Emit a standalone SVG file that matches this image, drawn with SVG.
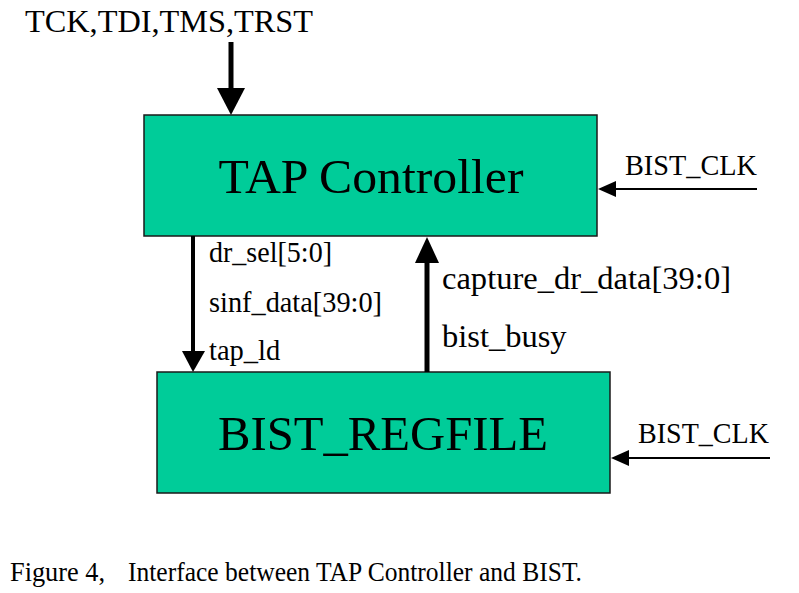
<svg xmlns="http://www.w3.org/2000/svg" width="799" height="593" viewBox="0 0 799 593">
<style>
.box{fill:#00cc99;stroke:#1a1a1a;stroke-width:1.5}
.t{font-family:"Liberation Serif","Times New Roman",serif;fill:#000}
.big{font-size:49px}
.lbl{font-size:28.5px}
.lbl2{font-size:32.5px}
.ln{stroke:#000;fill:none}
.hd{fill:#000}
</style>
<rect width="799" height="593" fill="#fff"/>
<g id="tap-controller">
<rect class="box" x="144" y="115" width="453" height="121"/>
<text class="t big" x="371" y="193" text-anchor="middle" textLength="305" lengthAdjust="spacingAndGlyphs">TAP Controller</text>
</g>
<g id="bist-regfile">
<rect class="box" x="157" y="372" width="453" height="121"/>
<text class="t big" x="383" y="450" text-anchor="middle" textLength="330" lengthAdjust="spacingAndGlyphs">BIST_REGFILE</text>
</g>
<g id="connectors">
<line class="ln" x1="231" y1="42" x2="231" y2="90" stroke-width="5"/>
<polygon class="hd" points="217,88 245,88 231,115"/>
<line class="ln" x1="193" y1="236" x2="193" y2="354" stroke-width="4"/>
<polygon class="hd" points="182,351 205,351 193,372"/>
<line class="ln" x1="427" y1="260" x2="427" y2="372" stroke-width="5"/>
<polygon class="hd" points="415,263 439,263 427,237"/>
<line class="ln" x1="757" y1="189" x2="612" y2="189" stroke-width="2"/>
<polygon class="hd" points="598,189 616,181 616,197"/>
<line class="ln" x1="770" y1="458" x2="625" y2="458" stroke-width="2"/>
<polygon class="hd" points="611,458 629,450 629,466"/>
</g>
<g id="labels">
<text class="t" x="25" y="32" font-size="32" textLength="288" lengthAdjust="spacingAndGlyphs">TCK,TDI,TMS,TRST</text>
<text class="t lbl" x="625" y="175" textLength="132" lengthAdjust="spacingAndGlyphs">BIST_CLK</text>
<text class="t lbl" x="638" y="443" textLength="131" lengthAdjust="spacingAndGlyphs">BIST_CLK</text>
<text class="t lbl" x="209" y="262" textLength="123" lengthAdjust="spacingAndGlyphs">dr_sel[5:0]</text>
<text class="t lbl" x="209" y="312" textLength="173" lengthAdjust="spacingAndGlyphs">sinf_data[39:0]</text>
<text class="t lbl" x="209" y="360">tap_ld</text>
<text class="t lbl2" x="442" y="289" textLength="289" lengthAdjust="spacingAndGlyphs">capture_dr_data[39:0]</text>
<text class="t lbl2" x="442" y="347">bist_busy</text>
</g>
<g id="caption">
<text class="t" x="10" y="581" font-size="27" textLength="95" lengthAdjust="spacingAndGlyphs">Figure 4,</text>
<text class="t" x="128" y="581" font-size="27" textLength="454" lengthAdjust="spacingAndGlyphs">Interface between TAP Controller and BIST.</text>
</g>
</svg>
